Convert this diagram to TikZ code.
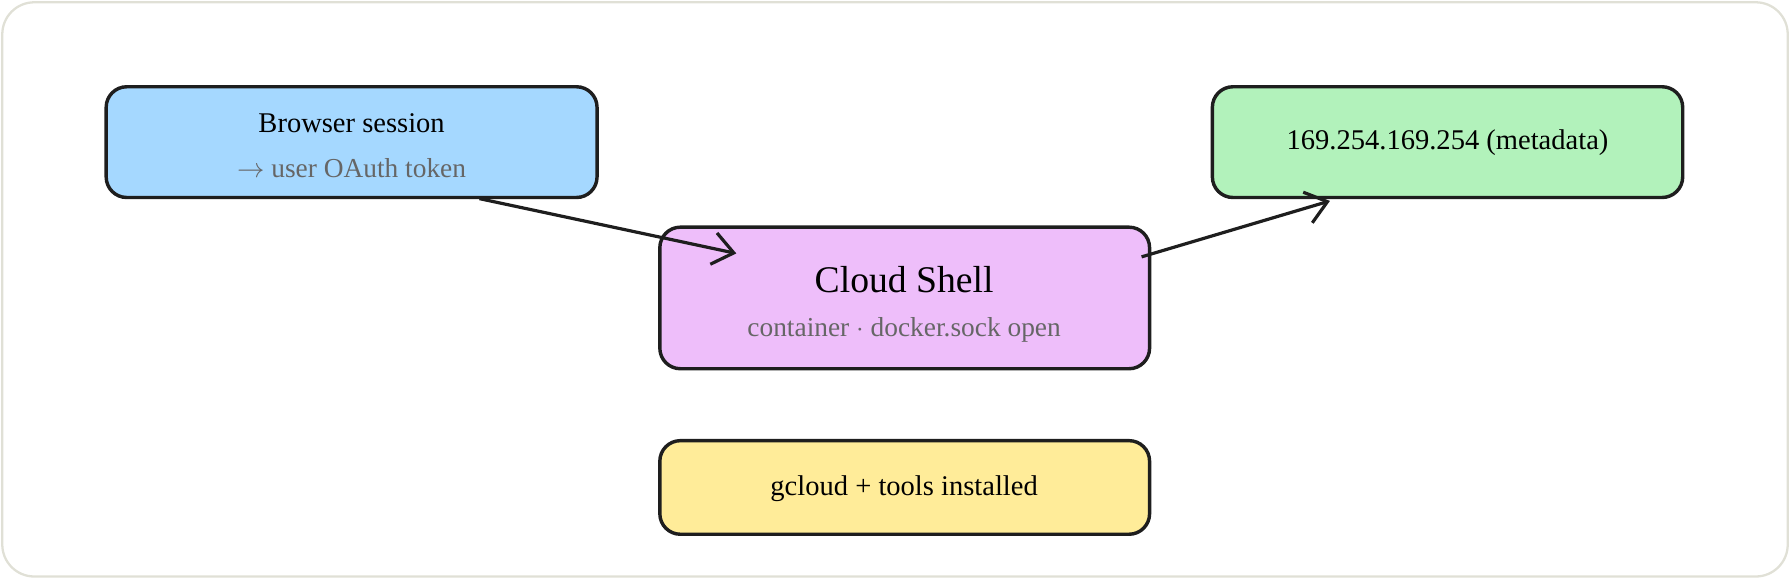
\documentclass[tikz,border=0pt]{standalone}
\usepackage{fontspec}
\setmainfont{Liberation Serif}
\usetikzlibrary{arrows.meta}
\definecolor{boxblue}{HTML}{A5D8FF}
\definecolor{boxpink}{HTML}{EEBEFA}
\definecolor{boxgreen}{HTML}{B2F2BB}
\definecolor{boxyellow}{HTML}{FFEC99}
\definecolor{subgray}{HTML}{666666}
\definecolor{inkline}{HTML}{1E1E1E}
\begin{document}
\begin{tikzpicture}[x=0.5pt, y=-0.5pt,
    box/.style = {draw=inkline, line width=1.5pt, rounded corners=9pt},
    sub/.style = {text=subgray, font=\fontsize{12}{14}\selectfont},
    title/.style = {font=\fontsize{12.5}{15}\selectfont},
    link/.style = {draw=inkline, line width=1.4pt, -{Straight Barb[length=9pt,width=14pt]}}]
  \useasboundingbox (0,0) rectangle (1568,508);
  \draw[color={rgb,255:red,224;green,224;blue,214}, line width=1pt, rounded corners=14pt] (2,2) rectangle (1566,505);

  % boxes
  \draw[box, fill=boxblue] (93,76) rectangle (523,173);
  \draw[box, fill=boxpink] (578,199) rectangle (1007,323);
  \draw[box, fill=boxgreen] (1062,76) rectangle (1474,173);
  \draw[box, fill=boxyellow] (578,386) rectangle (1007,468);

  % texts
  \node[title] (browser) at (308,108) {Browser session};
  \node[sub] (token) at (308,147) {$\rightarrow$ user OAuth token};
  \node[font=\fontsize{16.5}{19}\selectfont] (shell) at (792,245) {Cloud Shell};
  \node[sub] (sock) at (792,289) {container $\cdot$ docker.sock open};
  \node[title] (meta) at (1268,125) {169.254.169.254 (metadata)};
  \node[title] (tools) at (792,428) {gcloud + tools installed};

  % connectors
  \coordinate (b out) at (420,174);
  \coordinate (s in) at (645,222);
  \coordinate (s out) at (1000,225);
  \coordinate (m in) at (1165,176);
  \draw[link] (b out) -- (s in);
  \draw[link] (s out) -- (m in);
\end{tikzpicture}
\end{document}
